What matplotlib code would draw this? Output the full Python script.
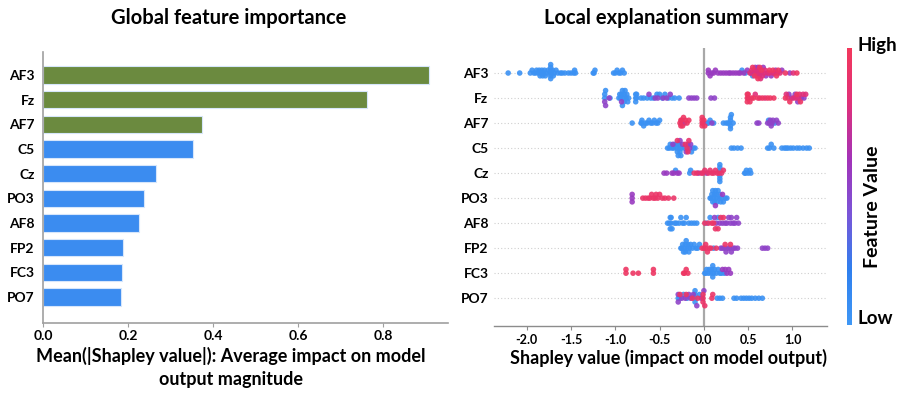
import numpy as np
import matplotlib.pyplot as plt
from matplotlib.colors import LinearSegmentedColormap
from matplotlib.cm import ScalarMappable

plt.rcParams['font.family'] = ['Lato', 'DejaVu Sans']
plt.rcParams['font.weight'] = 'bold'

features = ['AF3', 'Fz', 'AF7', 'C5', 'Cz', 'PO3', 'AF8', 'FP2', 'FC3', 'PO7']
mean_abs_shap = [0.908, 0.762, 0.374, 0.353, 0.266, 0.238, 0.225, 0.188, 0.187, 0.184]
n_green = 3

# beeswarm data: (feature value, [shapley values]) groups per feature
af3 = [
    (0.05, [-2.21, -2.08, -1.96, -1.94, -1.92, -1.90, -1.89, -1.87, -1.86, -1.85, -1.84, -1.83,
            -1.82, -1.81, -1.80, -1.79, -1.78, -1.76, -1.74, -1.73, -1.73, -1.73, -1.73, -1.73,
            -1.72, -1.71, -1.70, -1.69, -1.67, -1.65, -1.62, -1.60, -1.57, -1.53, -1.50, -1.47,
            -1.46, -1.45, -1.25, -1.24, -1.23, -1.02, -1.00, -0.98, -0.96, -0.94, -0.92, -0.90,
            0.43, 0.47, 0.55, 0.60]),
    (0.55, [0.05, 0.05, 0.07, 0.09, 0.11, 0.13, 0.16, 0.19, 0.22, 0.25, 0.28, 0.30, 0.33, 0.36,
            0.39, 0.41, 0.45, 0.49, 0.53, 0.56, 0.58, 0.61, 0.63, 0.65, 0.67, 0.70, 0.76, 0.81,
            0.88, 0.97]),
    (0.8, [0.52, 0.54, 0.57, 0.59, 0.60, 0.62, 0.62, 0.64, 0.66, 0.68, 0.69, 0.72, 0.74, 0.78,
           0.80, 0.83, 0.86, 1.01]),
    (0.95, [0.55, 0.57, 0.61, 0.63, 0.65, 0.74, 0.78, 0.82, 0.84, 0.92, 1.05]),
]
fz = [
    (0.05, [-1.12, -1.12, -1.11, -1.06, -0.96, -0.95, -0.94, -0.93, -0.92, -0.92, -0.91, -0.90,
            -0.90, -0.89, -0.88, -0.87, -0.86, -0.85, -0.77, -0.77, -0.77, -0.76, -0.76, -0.71,
            -0.68, -0.64, -0.60, -0.57, -0.53, -0.50, -0.47, -0.44, -0.40, -0.36, -0.33, -0.28]),
    (0.5, [-1.12, -1.11, -1.07, -0.93, -0.62, -0.55, -0.52, -0.46, -0.42, -0.38, -0.17, -0.14,
           -0.11, -0.08, 0.08, 0.12, 0.96, 0.99, 1.03, 1.06, 1.10, 1.13]),
    (0.8, [0.50, 0.58, 0.63, 0.69, 0.93, 0.95, 1.01, 1.04, 1.07, 1.08, 1.12, 1.15]),
    (0.95, [0.49, 0.49, 0.49, 0.50, 0.52, 0.54, 0.56, 0.61, 0.66, 0.72, 0.75, 0.79, 0.92, 0.97,
            1.05, 1.09]),
]
af7 = [
    (0.05, [-0.81, -0.71, -0.70, -0.70, -0.68, -0.66, -0.64, -0.62, -0.60, -0.58, -0.56, -0.54,
            -0.52, -0.50, 0.04, 0.05, 0.07, 0.11, 0.22, 0.25, 0.27, 0.29, 0.30, 0.30, 0.30, 0.30,
            0.31, 0.33, 0.73, 0.80]),
    (0.5, [-0.25, -0.22, -0.01, 0.09, 0.60, 0.62, 0.72, 0.74, 0.75, 0.76, 0.77, 0.78, 0.82, 0.84]),
    (0.95, [-0.27, -0.26, -0.26, -0.25, -0.24, -0.23, -0.21, -0.19, -0.17, -0.02, -0.02, -0.02,
            -0.02, 0.0, 0.01]),
]
c5 = [
    (0.05, [-0.41, -0.39, -0.38, -0.36, -0.34, -0.33, -0.31, -0.30, -0.30, -0.29, -0.28, -0.28,
            -0.27, -0.26, -0.25, -0.22, -0.14, -0.12, -0.10, 0.31, 0.34, 0.38, 0.42, 0.72, 0.74,
            0.76, 0.79, 0.88, 0.91, 0.93, 0.95, 0.98, 1.01, 1.05, 1.08, 1.12, 1.16, 1.19]),
    (0.5, [-0.35, -0.27, -0.24, -0.20, -0.18, -0.16, -0.15]),
    (0.9, [-0.30, -0.21, -0.19, -0.18, -0.17]),
]
cz = [
    (0.05, [-0.32, -0.16, -0.15, 0.18, 0.18, 0.18, 0.18, 0.18, 0.18, 0.46, 0.47, 0.48, 0.50,
            0.52, 0.53]),
    (0.55, [-0.45, -0.42, -0.36, -0.34, -0.30, -0.28, -0.06, 0.03]),
    (0.9, [-0.11, -0.08, -0.03, -0.01, 0.01, 0.05, 0.07, 0.09, 0.11, 0.13, 0.15, 0.17, 0.20, 0.22]),
]
po3 = [
    (0.05, [0.07, 0.08, 0.09, 0.10, 0.10, 0.11, 0.12, 0.12, 0.13, 0.14, 0.14, 0.15, 0.16, 0.17,
            0.18, 0.19, 0.20, 0.22, 0.24, 0.26]),
    (0.55, [-0.81, -0.81, -0.81, 0.13, 0.21]),
    (0.92, [-0.69, -0.66, -0.63, -0.61, -0.59, -0.57, -0.55, -0.54, -0.52, -0.50, -0.47, -0.44,
            -0.40, -0.34]),
]
af8 = [
    (0.05, [-0.41, -0.39, -0.38, -0.38, -0.37, -0.37, -0.36, -0.33, -0.31, -0.28, -0.26, -0.24,
            -0.22, -0.20, -0.17, -0.14, -0.11, -0.08, 0.03, 0.07, 0.16]),
    (0.5, [0.12, 0.14, 0.18, 0.21, 0.24, 0.26, 0.28, 0.30, 0.31, 0.33, 0.35, 0.37, 0.39]),
    (0.92, [0.01, 0.05, 0.09, 0.11, 0.13, 0.16, 0.19, 0.22]),
]
fp2 = [
    (0.05, [-0.26, -0.25, -0.24, -0.23, -0.22, -0.21, -0.21, -0.20, -0.19, -0.18, -0.17, -0.16,
            -0.15, -0.13, -0.11, -0.09, -0.07, -0.05, 0.11]),
    (0.5, [0.19, 0.21, 0.23, 0.25, 0.27, 0.29, 0.31, 0.33, 0.35, 0.38, 0.66, 0.69, 0.72]),
    (0.92, [-0.02, 0.0, 0.02, 0.02, 0.04, 0.06, 0.08, 0.14, 0.24, 0.30]),
]
fc3 = [
    (0.05, [0.01, 0.02, 0.03, 0.05, 0.06, 0.08, 0.09, 0.10, 0.10, 0.11, 0.12, 0.14, 0.16, 0.18,
            0.20, 0.23]),
    (0.55, [0.21, 0.24, 0.26, 0.28, 0.30]),
    (0.95, [-0.88, -0.88, -0.80, -0.74, -0.57, -0.57, -0.23, -0.22, -0.20, -0.18]),
]
po7 = [
    (0.05, [-0.29, -0.27, -0.23, -0.19, -0.10, -0.10, -0.10, -0.10, -0.05, 0.15, 0.18, 0.21,
            0.34, 0.37, 0.42, 0.45, 0.48, 0.51, 0.54, 0.58, 0.62, 0.66]),
    (0.5, [-0.29, -0.29, -0.25, -0.21, -0.17, -0.15, -0.12, -0.08, -0.03, 0.0]),
    (0.92, [-0.27, -0.20, -0.13, -0.07, -0.01, -0.01, -0.01, 0.01, 0.09, 0.10]),
]
swarm_rows = [af3, fz, af7, c5, cz, po3, af8, fp2, fc3, po7]

cmap = LinearSegmentedColormap.from_list(
    'shap_rb', ['#3f97f5', '#2f7fee', '#7a55d8', '#a332b8', '#e0307a', '#f2385c'])


def swarm_offsets(x, bin_width=0.03, row_height=0.5):
    # shap style: stack points falling into the same x bin, alternating up/down
    x = np.asarray(x)
    q = np.round(x / bin_width)
    ys = np.zeros(len(x))
    layer, last = 0, None
    for i in np.argsort(x, kind='stable'):
        if q[i] != last:
            layer = 0
        ys[i] = np.ceil(layer / 2) * ((layer % 2) * 2 - 1)
        layer += 1
        last = q[i]
    return ys * 0.9 * row_height / (np.max(np.abs(ys)) + 1)


fig = plt.figure(figsize=(9.04, 3.94), dpi=100)

# ---- left: global importance bars
ax1 = fig.add_axes([43 / 904, 1 - 323 / 394, 405 / 904, 271 / 394])
ypos = np.arange(len(features))[::-1]
colors = ['#6b8a3f'] * n_green + ['#3b8cf0'] * (len(features) - n_green)
ax1.barh(ypos, mean_abs_shap, height=0.7, color=colors, edgecolor='#d6e6fb', linewidth=0.8)
ax1.set_yticks(ypos)
ax1.set_yticklabels(features, fontsize=10, fontweight='bold')
ax1.set_xlim(0, 0.953)
ax1.set_ylim(-1.05, 9.93)
ax1.set_xticks([0.0, 0.2, 0.4, 0.6, 0.8])
ax1.set_xticklabels(['0.0', '0.2', '0.4', '0.6', '0.8'], fontsize=10, fontweight='bold')
for s in ['top', 'right']:
    ax1.spines[s].set_visible(False)
for s in ['left', 'bottom']:
    ax1.spines[s].set_color('#a0a0a0')
    ax1.spines[s].set_linewidth(1.2)
ax1.tick_params(axis='y', length=0, pad=6)
ax1.tick_params(axis='x', length=3, color='#a0a0a0', pad=2)

fig.text(229 / 904, 1 - 18 / 394, 'Global feature importance', ha='center', va='center',
         fontsize=14.5, fontweight='bold')
fig.text(231 / 904, 1 - 356 / 394, 'Mean(|Shapley value|): Average impact on model',
         ha='center', va='center', fontsize=13, fontweight='bold')
fig.text(231 / 904, 1 - 380 / 394, 'output magnitude', ha='center', va='center',
         fontsize=13, fontweight='bold')

# ---- right: beeswarm
ax2 = fig.add_axes([494 / 904, 1 - 326 / 394, 333 / 904, 278 / 394])
for i, (name, row) in enumerate(zip(features, swarm_rows)):
    y0 = ypos[i]
    ax2.axhline(y0, color='#cfcfcf', lw=0.8, ls=(0, (1, 2)), zorder=0)
    xs = np.concatenate([np.asarray(v) for c, v in row])
    cs = np.concatenate([np.full(len(v), c) for c, v in row])
    dy = swarm_offsets(xs)
    ax2.scatter(xs, y0 + dy, c=cs, cmap=cmap, vmin=0, vmax=1, s=16, linewidths=0,
                alpha=0.9, zorder=3)
ax2.axvline(0, color='#a8a8a8', lw=1.6, zorder=1)
ax2.set_yticks(ypos)
ax2.set_yticklabels(features, fontsize=10, fontweight='bold')
ax2.set_xlim(-2.37, 1.39)
ax2.set_ylim(-1.11, 10.0)
ax2.set_xticks([-2.0, -1.5, -1.0, -0.5, 0.0, 0.5, 1.0])
ax2.set_xticklabels(['-2.0', '-1.5', '-1.0', '-0.5', '0.0', '0.5', '1.0'], fontsize=9,
                    fontweight='bold')
for s in ['top', 'right', 'left']:
    ax2.spines[s].set_visible(False)
ax2.spines['bottom'].set_color('#8c8c8c')
ax2.spines['bottom'].set_linewidth(1.0)
ax2.tick_params(axis='y', length=0, pad=4)
ax2.tick_params(axis='x', length=3, color='#8c8c8c', pad=3)

fig.text(666 / 904, 1 - 18 / 394, 'Local explanation summary', ha='center', va='center',
         fontsize=14.5, fontweight='bold')
fig.text(669 / 904, 1 - 358 / 394, 'Shapley value (impact on model output)', ha='center',
         va='center', fontsize=13, fontweight='bold')

# ---- colour bar
cax = fig.add_axes([847 / 904, 1 - 325 / 394, 5 / 904, 277 / 394])
cb = fig.colorbar(ScalarMappable(cmap=cmap), cax=cax)
cb.outline.set_visible(False)
cb.set_ticks([])
fig.text(858 / 904, 1 - 45 / 394, 'High', ha='left', va='center', fontsize=13.5, fontweight='bold')
fig.text(858 / 904, 1 - 318 / 394, 'Low', ha='left', va='center', fontsize=13.5, fontweight='bold')
fig.text(873 / 904, 1 - 207 / 394, 'Feature Value', ha='center', va='center', rotation=90,
         fontsize=14, fontweight='bold')

fig.savefig('out.png', dpi=100)
